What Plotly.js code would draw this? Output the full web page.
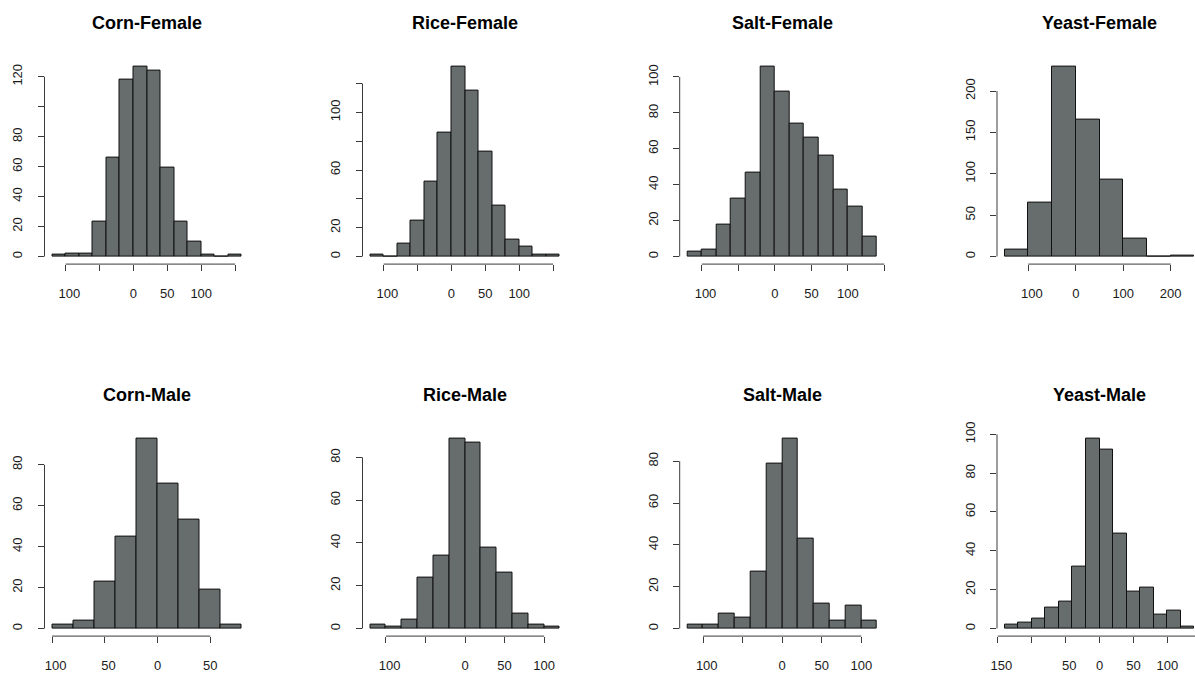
<!DOCTYPE html>
<html><head><meta charset="utf-8">
<script src="https://cdn.plot.ly/plotly-3.0.1.min.js"></script>
<style>html,body{margin:0;padding:0;background:#fff;} #chart{width:1195px;height:673px;}</style>
</head><body><div id="chart"></div>
<script>
// ---------- data ----------
const panelTitles = ['Corn-Female','Rice-Female','Salt-Female','Yeast-Female','Corn-Male','Rice-Male','Salt-Male','Yeast-Male'];

const cornFemaleBreaks = [-120,-100,-80,-60,-40,-20,0,20,40,60,80,100,120,140,160];
const cornFemaleCounts = [1,2,2,23,66,118,127,124,59,23,10,1,0,1];
const riceFemaleBreaks = [-120,-100,-80,-60,-40,-20,0,20,40,60,80,100,120,140,160];
const riceFemaleCounts = [1,0,9,25,52,86,132,115,73,35,12,7,1,1];
const saltFemaleBreaks = [-120,-100,-80,-60,-40,-20,0,20,40,60,80,100,120,140];
const saltFemaleCounts = [3,4,18,32,47,106,92,74,66,56,37,28,11];
const yeastFemaleBreaks = [-150,-100,-50,0,50,100,150,200,250];
const yeastFemaleCounts = [8,65,230,166,93,22,0,1];
const cornMaleBreaks = [-100,-80,-60,-40,-20,0,20,40,60,80];
const cornMaleCounts = [2,4,23,45,93,71,53,19,2];
const riceMaleBreaks = [-120,-100,-80,-60,-40,-20,0,20,40,60,80,100,120];
const riceMaleCounts = [2,1,4,24,34,89,87,38,26,7,2,1];
const saltMaleBreaks = [-120,-100,-80,-60,-40,-20,0,20,40,60,80,100,120];
const saltMaleCounts = [2,2,7,5,27,79,91,43,12,4,11,4];
const yeastMaleBreaks = [-140,-120,-100,-80,-60,-40,-20,0,20,40,60,80,100,120,140];
const yeastMaleCounts = [2,3,5,11,14,32,98,92,49,19,21,7,9,1];

// tick values and tick labels (as printed in the picture)
const cornFemaleXTicks = [-100,-50,0,50,100,150];
const cornFemaleXLabels = ['100','','0','50','100',''];
const riceFemaleXTicks = [-100,-50,0,50,100,150];
const riceFemaleXLabels = ['100','','0','50','100',''];
const saltFemaleXTicks = [-100,-50,0,50,100,150];
const saltFemaleXLabels = ['100','','0','50','100',''];
const yeastFemaleXTicks = [-100,0,100,200];
const yeastFemaleXLabels = ['100','0','100','200'];
const cornMaleXTicks = [-100,-50,0,50];
const cornMaleXLabels = ['100','50','0','50'];
const riceMaleXTicks = [-100,-50,0,50,100];
const riceMaleXLabels = ['100','','0','50','100'];
const saltMaleXTicks = [-100,-50,0,50,100];
const saltMaleXLabels = ['100','','0','50','100'];
const yeastMaleXTicks = [-150,-100,-50,0,50,100,150];
const yeastMaleXLabels = ['150','','50','0','50','100','150'];

const cornFemaleYTicks = [0,20,40,60,80,100,120];
const cornFemaleYLabels = ['0','20','40','60','80','','120'];
const riceFemaleYTicks = [0,20,40,60,80,100,120];
const riceFemaleYLabels = ['0','20','','60','','100',''];
const saltFemaleYTicks = [0,20,40,60,80,100];
const saltFemaleYLabels = ['0','20','40','60','80','100'];
const yeastFemaleYTicks = [0,50,100,150,200];
const yeastFemaleYLabels = ['0','50','100','150','200'];
const cornMaleYTicks = [0,20,40,60,80];
const cornMaleYLabels = ['0','20','40','60','80'];
const riceMaleYTicks = [0,20,40,60,80];
const riceMaleYLabels = ['0','20','40','60','80'];
const saltMaleYTicks = [0,20,40,60,80];
const saltMaleYLabels = ['0','20','40','60','80'];
const yeastMaleYTicks = [0,20,40,60,80,100];
const yeastMaleYLabels = ['0','20','40','60','80','100'];

const panels = [
  {breaks: cornFemaleBreaks, counts: cornFemaleCounts, xt: cornFemaleXTicks, xl: cornFemaleXLabels, yt: cornFemaleYTicks, yl: cornFemaleYLabels},
  {breaks: riceFemaleBreaks, counts: riceFemaleCounts, xt: riceFemaleXTicks, xl: riceFemaleXLabels, yt: riceFemaleYTicks, yl: riceFemaleYLabels},
  {breaks: saltFemaleBreaks, counts: saltFemaleCounts, xt: saltFemaleXTicks, xl: saltFemaleXLabels, yt: saltFemaleYTicks, yl: saltFemaleYLabels},
  {breaks: yeastFemaleBreaks, counts: yeastFemaleCounts, xt: yeastFemaleXTicks, xl: yeastFemaleXLabels, yt: yeastFemaleYTicks, yl: yeastFemaleYLabels},
  {breaks: cornMaleBreaks, counts: cornMaleCounts, xt: cornMaleXTicks, xl: cornMaleXLabels, yt: cornMaleYTicks, yl: cornMaleYLabels},
  {breaks: riceMaleBreaks, counts: riceMaleCounts, xt: riceMaleXTicks, xl: riceMaleXLabels, yt: riceMaleYTicks, yl: riceMaleYLabels},
  {breaks: saltMaleBreaks, counts: saltMaleCounts, xt: saltMaleXTicks, xl: saltMaleXLabels, yt: saltMaleYTicks, yl: saltMaleYLabels},
  {breaks: yeastMaleBreaks, counts: yeastMaleCounts, xt: yeastMaleXTicks, xl: yeastMaleXLabels, yt: yeastMaleYTicks, yl: yeastMaleYLabels}
];

// ---------- layout geometry (pixels) ----------
const W = 1195, H = 673;
const colLeft = [44.5, 362.5, 679.7, 997];
const rowTop = [58.6, 430.6];
const panelW = 205, panelH = 205.5;

const FONT = '"Liberation Sans", Arial, Helvetica, sans-serif';
const BAR_FILL = '#676c6c';
const AX_COL = '#3a3a3a';
const TXT_COL = '#1a1a1a';

const traces = [];
const layout = {
  width: W, height: H,
  margin: {l: 0, r: 0, t: 0, b: 0},
  paper_bgcolor: '#ffffff', plot_bgcolor: '#ffffff',
  showlegend: false, bargap: 0,
  font: {family: FONT, color: TXT_COL},
  shapes: [], annotations: []
};

panels.forEach((p, i) => {
  const n = i + 1;
  const xid = 'x' + (n === 1 ? '' : n), yid = 'y' + (n === 1 ? '' : n);
  const xkey = 'xaxis' + (n === 1 ? '' : n), ykey = 'yaxis' + (n === 1 ? '' : n);
  const row = i < 4 ? 0 : 1, col = i % 4;

  const centers = [], widths = [];
  for (let k = 0; k < p.counts.length; k++) {
    centers.push((p.breaks[k] + p.breaks[k + 1]) / 2);
    widths.push(p.breaks[k + 1] - p.breaks[k]);
  }
  traces.push({
    type: 'bar', x: centers, y: p.counts, width: widths,
    xaxis: xid, yaxis: yid,
    marker: {color: BAR_FILL, line: {color: '#111', width: 1}},
    hoverinfo: 'x+y'
  });

  const b0 = p.breaks[0], bN = p.breaks[p.breaks.length - 1];
  const span = bN - b0;
  let xr = [b0 - 0.04 * span, bN + 0.04 * span];
  let x0px = colLeft[col], x1px = x0px + panelW;
  if (x1px > W) { // the picture is cut at the right edge
    xr[1] = xr[0] + (xr[1] - xr[0]) * (W - x0px) / (x1px - x0px);
    x1px = W;
  }
  const ymax = Math.max.apply(null, p.counts);
  const yr = [-0.04 * ymax, 1.04 * ymax];
  const yTopPx = rowTop[row], yBotPx = rowTop[row] + panelH;
  const yDom = [(H - yBotPx) / H, (H - yTopPx) / H];
  const xDom = [x0px / W, x1px / W];

  const xText = p.xl.map((t, k) => (p.xt[k] < 0 && t) ? '\u00a0\u00a0' + t : t);

  layout[xkey] = {
    domain: xDom, range: xr, anchor: yid,
    showgrid: false, zeroline: false, showline: false,
    ticks: 'outside', ticklen: 6, tickwidth: 1, tickcolor: AX_COL,
    tickmode: 'array', tickvals: p.xt, ticktext: xText,
    tickfont: {family: FONT, size: 13, color: TXT_COL},
    ticklabelstandoff: 11, fixedrange: true
  };
  layout[ykey] = {
    domain: yDom, range: yr, anchor: xid,
    showgrid: false, zeroline: false, showline: false,
    ticks: 'outside', ticklen: 6, tickwidth: 1, tickcolor: AX_COL,
    tickmode: 'array', tickvals: p.yt, ticktext: p.yl, tickangle: -90,
    tickfont: {family: FONT, size: 13, color: TXT_COL},
    ticklabelstandoff: 10, fixedrange: true
  };

  // R-style axis lines spanning only from first to last tick
  layout.shapes.push({
    type: 'line', xref: xid, yref: 'paper',
    x0: p.xt[0], x1: p.xt[p.xt.length - 1], y0: yDom[0], y1: yDom[0],
    line: {color: AX_COL, width: 1}
  });
  layout.shapes.push({
    type: 'line', xref: 'paper', yref: yid,
    x0: xDom[0], x1: xDom[0], y0: p.yt[0], y1: p.yt[p.yt.length - 1],
    line: {color: AX_COL, width: 1}
  });

  layout.annotations.push({
    xref: xid + ' domain', yref: yid + ' domain',
    x: (((x0px + panelW / 2) - x0px) / (x1px - x0px)), y: 1, yshift: 36,
    xanchor: 'center', yanchor: 'middle', showarrow: false,
    text: '<b>' + panelTitles[i] + '</b>',
    font: {family: FONT, size: 18, color: '#000'}
  });
});

Plotly.newPlot('chart', traces, layout, {displayModeBar: false, responsive: false});
</script>
</body></html>
